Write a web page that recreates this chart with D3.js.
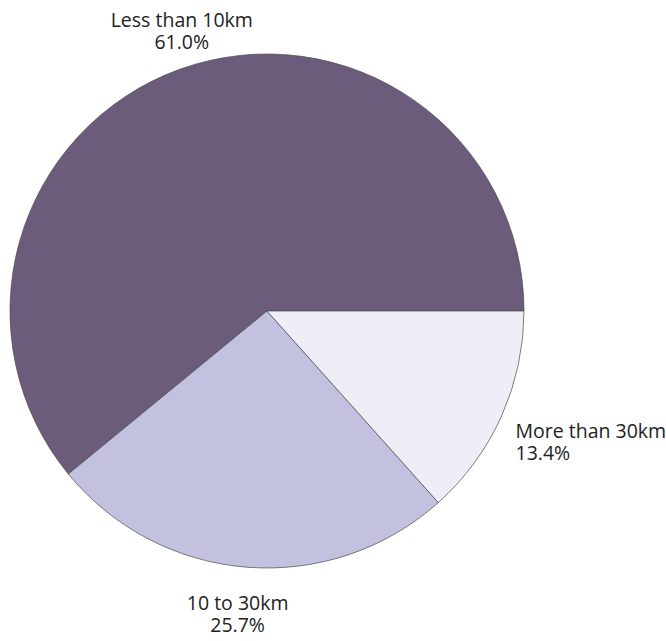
<!DOCTYPE html>
<html>
<head>
<meta charset="utf-8">
<script src="https://cdn.jsdelivr.net/npm/d3@7/dist/d3.min.js"></script>
<style>
  html, body { margin: 0; padding: 0; background: #fff; }
  svg { display: block; }
  text { font-family: "Open Sans", "Noto Sans", sans-serif; }
</style>
</head>
<body>
<svg id="chart" width="666" height="641"></svg>
<script>
const categories = ["Less than 10km", "10 to 30km", "More than 30km"];
const values = [61.0, 25.7, 13.4];
const colors = ["#6b5c7c", "#c2c2e0", "#efedf5"];

const cx = 267, cy = 311, R = 257, labelR = 276;
const labelTurn = 1.7 * Math.PI / 180;
const fontSize = 19.5, lineH = 22;

const svg = d3.select("#chart");
const g = svg.append("g").attr("transform", `translate(${cx},${cy})`);

const data = categories.map((c, i) => ({ name: c, value: values[i], color: colors[i] }));

// start at 3 o'clock and go counter-clockwise
const pie = d3.pie().sort(null).value(d => d.value)
  .startAngle(Math.PI / 2).endAngle(Math.PI / 2 - 2 * Math.PI);
const arcs = pie(data);
const arc = d3.arc().innerRadius(0).outerRadius(R);

g.selectAll("path.slice").data(arcs).enter().append("path")
  .attr("class", "slice")
  .attr("d", arc)
  .attr("fill", d => d.data.color)
  .attr("stroke", "#4a4a4a")
  .attr("stroke-width", 0.7)
  .attr("stroke-linejoin", "round");

const fmt = d3.format(".1f");
arcs.forEach(a => {
  const mid = (a.startAngle + a.endAngle) / 2 + labelTurn;
  const ux = Math.sin(mid), uy = -Math.cos(mid);
  const px = ux * labelR, py = uy * labelR;
  let anchor, firstBaseline;
  if (Math.abs(ux) > 0.6) {
    anchor = ux > 0 ? "start" : "end";
    firstBaseline = py + 7;
  } else if (uy < 0) {
    anchor = "middle";
    firstBaseline = py - lineH;
  } else {
    anchor = "middle";
    firstBaseline = py + 25;
  }
  const lines = [a.data.name, fmt(a.data.value) + "%"];
  lines.forEach((s, i) => {
    g.append("text")
      .attr("x", px)
      .attr("y", firstBaseline + i * lineH)
      .attr("text-anchor", anchor)
      .attr("font-size", fontSize)
      .attr("fill", "#222")
      .text(s);
  });
});
</script>
</body>
</html>
